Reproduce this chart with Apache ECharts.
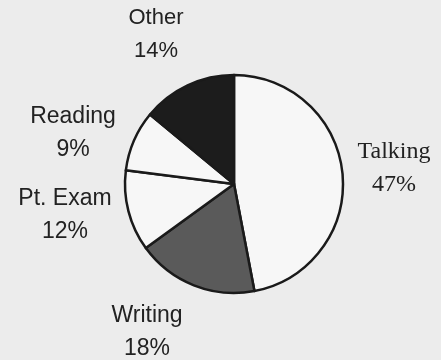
<!DOCTYPE html>
<html>
<head>
<meta charset="utf-8">
<script src="https://cdn.jsdelivr.net/npm/echarts@6/dist/echarts.min.js"></script>
<style>
html,body{margin:0;padding:0;background:#ececec;}
#c{width:441px;height:360px;}
</style>
</head>
<body>
<div id="c"></div>
<script>
const categories = ['Talking', 'Writing', 'Pt. Exam', 'Reading', 'Other'];
const percents = [47, 18, 12, 9, 14];

const sliceColors = ['#f7f7f7', '#5a5a5a', '#f7f7f7', '#f7f7f7', '#1c1c1c'];
const labelCenters = [[394, 168], [147, 332], [65, 215], [73, 133], [156, 34]];
const labelFonts = ['Liberation Serif', 'Liberation Sans', 'Liberation Sans', 'Liberation Sans', 'Liberation Sans'];
const labelSizes = [24, 23, 23, 23, 22];

const chart = echarts.init(document.getElementById('c'), null, {renderer: 'canvas'});
chart.setOption({
  backgroundColor: '#ececec',
  animation: false,
  series: [{
    type: 'pie',
    center: [234, 184],
    radius: [0, 109],
    startAngle: 90,
    clockwise: true,
    label: {
      show: true,
      position: 'outside',
      formatter: '{b}\n{c}%',
      fontSize: 23,
      lineHeight: 33,
      color: '#222',
      align: 'center',
      overflow: 'none',
      width: 200
    },
    labelLine: {show: false},
    labelLayout: function (p) {
      const c = labelCenters[p.dataIndex];
      return {x: c[0], y: c[1], align: 'center', verticalAlign: 'middle'};
    },
    itemStyle: {borderColor: '#1a1a1a', borderWidth: 2.5},
    emphasis: {disabled: true},
    data: categories.map((n, i) => ({
      name: n,
      value: percents[i],
      itemStyle: {color: sliceColors[i]},
      label: {fontFamily: labelFonts[i], fontSize: labelSizes[i]}
    }))
  }]
});
</script>
</body>
</html>
